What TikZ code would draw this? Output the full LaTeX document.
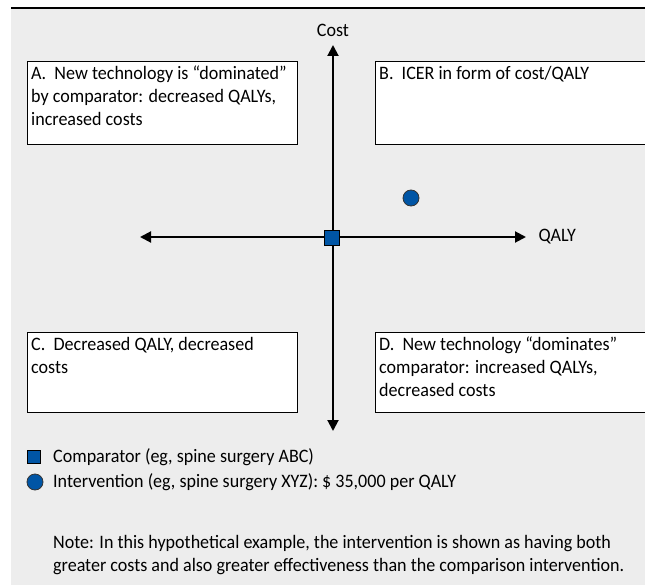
\documentclass[tikz,border=0pt]{standalone}
\usepackage{fontspec}
\setmainfont{Carlito}[FakeStretch=0.95]
\usetikzlibrary{arrows.meta}
\usetikzlibrary{positioning}
\definecolor{panelgray}{HTML}{EDEDED}
\definecolor{markblue}{HTML}{0055A5}

\tikzset{
  quadbox/.style={draw,fill=white,line width=0.8bp,anchor=north west,inner sep=0pt},
  quadtext/.style={anchor=north west,align=left,inner xsep=4bp,inner ysep=5bp},
  axis/.style={line width=2bp,{Triangle[length=11bp,width=11bp]}-{Triangle[length=11bp,width=11bp]}},
  compsq/.style={draw=black,fill=markblue,line width=0.8bp,minimum size=15bp,inner sep=0pt},
  intdot/.style={circle,draw=black!80,fill=markblue,line width=0.8bp,minimum size=16bp,inner sep=0pt},
  legtext/.style={anchor=west,inner sep=0pt}
}

\begin{document}
\begin{tikzpicture}[x=1bp,y=-1bp,font=\fontsize{19bp}{23bp}\selectfont]
    \useasboundingbox (0,0) rectangle (645,585);
    \fill[panelgray] (11,8) rectangle (645,585);
    \draw[line width=1.5bp] (11,8) -- (645,8);

    % quadrants
    \node[quadbox,minimum width=270bp,minimum height=83bp] (boxA) at (27,61) {};
    \node[quadbox,minimum width=290bp,minimum height=83bp] (boxB) at (375,61) {};
    \node[quadbox,minimum width=270bp,minimum height=80bp] (boxC) at (27,332) {};
    \node[quadbox,minimum width=290bp,minimum height=80bp] (boxD) at (375,332) {};

    \node[quadtext] (txtA) at (boxA.north west) {A.\ \ New technology is “dominated”\\by comparator: decreased QALYs,\\increased costs};
    \node[quadtext] (txtB) at (boxB.north west) {B.\ \ ICER in form of cost/QALY};
    \node[quadtext] (txtC) at (boxC.north west) {C.\ \ Decreased QALY, decreased\\costs};
    \node[quadtext] (txtD) at (boxD.north west) {D.\ \ New technology “dominates”\\comparator: increased QALYs,\\decreased costs};

    % axes
    \coordinate (costtop) at (333,45);
    \coordinate (costbot) at (333,431);
    \coordinate (qalyleft) at (140,237);
    \coordinate (qalyright) at (526,237);
    \draw[axis] (costbot) -- (costtop);
    \draw[axis] (qalyleft) -- (qalyright);
    \node (costlbl) at (333,30) {Cost};
    \node[anchor=west] (qalylbl) at (535,237) {QALY};

    \node[compsq] (comp) at (332,238) {};
    \node[intdot] (interv) at (411,198) {};

    % legend
    \node[compsq,minimum size=13bp] (legsq) at (34,457) {};
    \node[legtext] (legcomp) at (53,457) {Comparator (eg, spine surgery ABC)};
    \node[intdot] (legdot) at (35,482) {};
    \node[legtext] (legint) at (53,482) {Intervention (eg, spine surgery XYZ): \$ 35,000 per QALY};

    \node[anchor=north west,align=left,inner sep=0pt] (note) at (53,535) {Note: In this hypothetical example, the intervention is shown as having both\\greater costs and also greater effectiveness than the comparison intervention.};

  \end{tikzpicture}
\end{document}
